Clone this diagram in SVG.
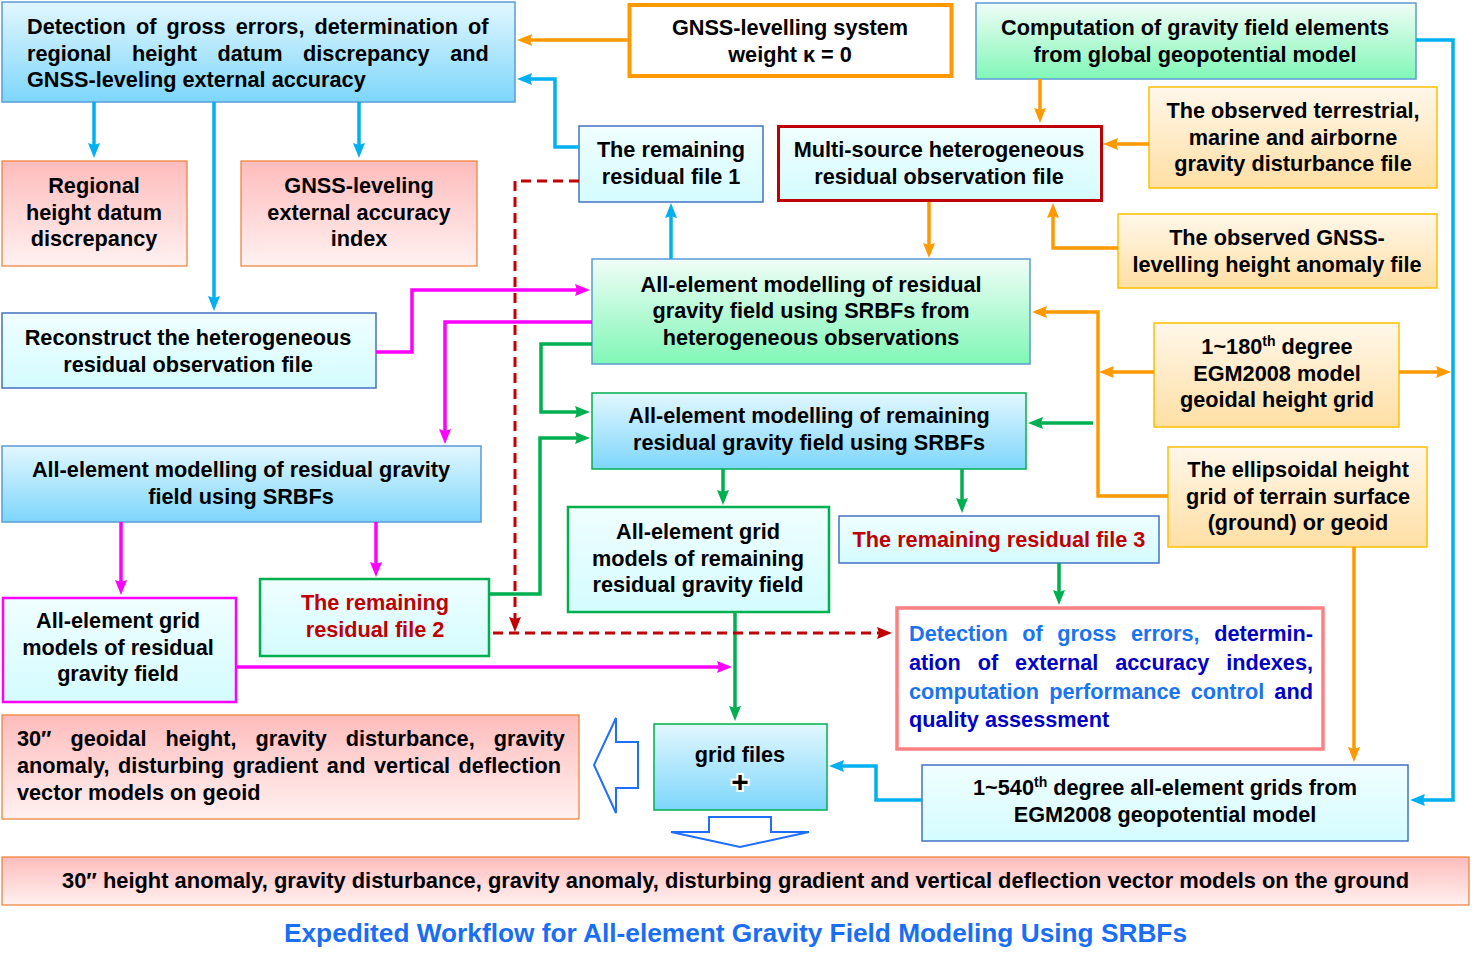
<svg xmlns="http://www.w3.org/2000/svg" width="1475" height="965" viewBox="0 0 1475 965">
<defs>
<linearGradient id="gBlue" x1="0" y1="0" x2="0" y2="1"><stop offset="0" stop-color="#e2f7fe"/><stop offset="1" stop-color="#7dd6fb"/></linearGradient>
<linearGradient id="gGreen" x1="0" y1="0" x2="0" y2="1"><stop offset="0" stop-color="#f0fdf7"/><stop offset="1" stop-color="#80f7b6"/></linearGradient>
<linearGradient id="gPink" x1="0" y1="0" x2="0" y2="1"><stop offset="0" stop-color="#ffbcbc"/><stop offset="1" stop-color="#fff1f1"/></linearGradient>
<linearGradient id="gOrange" x1="0" y1="0" x2="0" y2="1"><stop offset="0" stop-color="#fff7ea"/><stop offset="1" stop-color="#ffdfa4"/></linearGradient>
<linearGradient id="gCyan" x1="0" y1="0" x2="0" y2="1"><stop offset="0" stop-color="#f0feff"/><stop offset="1" stop-color="#d4fcff"/></linearGradient>
<marker id="aBlue" viewBox="0 0 15 12" refX="5" refY="6" markerWidth="15" markerHeight="12" markerUnits="userSpaceOnUse" orient="auto"><path d="M0,0 L15,6 L0,12 L2,6 z" fill="#00b0f0"/></marker>
<marker id="aOrange" viewBox="0 0 15 12" refX="5" refY="6" markerWidth="15" markerHeight="12" markerUnits="userSpaceOnUse" orient="auto"><path d="M0,0 L15,6 L0,12 L2,6 z" fill="#ff9900"/></marker>
<marker id="aGreen" viewBox="0 0 15 12" refX="5" refY="6" markerWidth="15" markerHeight="12" markerUnits="userSpaceOnUse" orient="auto"><path d="M0,0 L15,6 L0,12 L2,6 z" fill="#00b050"/></marker>
<marker id="aMag" viewBox="0 0 15 12" refX="5" refY="6" markerWidth="15" markerHeight="12" markerUnits="userSpaceOnUse" orient="auto"><path d="M0,0 L15,6 L0,12 L2,6 z" fill="#ff00ff"/></marker>
<marker id="aRed" viewBox="0 0 15 12" refX="5" refY="6" markerWidth="15" markerHeight="12" markerUnits="userSpaceOnUse" orient="auto"><path d="M0,0 L15,6 L0,12 L2,6 z" fill="#c00000"/></marker>
</defs>
<style>
text{font-family:"Liberation Sans",Arial,sans-serif;font-weight:bold;font-size:21.7px;fill:#000}
.c{text-anchor:middle}
.red{fill:#c00000}
.lb{fill:#1a73f0}
.db{fill:#0000c8}
.sup{font-size:14px}
.bBlue{fill:url(#gBlue);stroke:#5b9bd5;stroke-width:1.5}
.bGreen{fill:url(#gGreen);stroke:#5b9bd5;stroke-width:1.5}
.bPink{fill:url(#gPink);stroke:#ed7d31;stroke-width:1.2}
.bOr{fill:url(#gOrange);stroke:#ffc000;stroke-width:1.5}
.bCyan{fill:url(#gCyan);stroke:#4472c4;stroke-width:1.5}
.cn{fill:none;stroke-width:3.5}
.cb{stroke:#00b0f0;marker-end:url(#aBlue)}
.co{stroke:#ff9900;marker-end:url(#aOrange)}
.cg{stroke:#00b050;marker-end:url(#aGreen)}
.cm{stroke:#ff00ff;marker-end:url(#aMag)}
.cr{stroke:#c00000;stroke-width:3;stroke-dasharray:10 6;marker-end:url(#aRed)}
.blk{fill:#fff;stroke:#1f6fff;stroke-width:2}
</style>
<rect width="1475" height="965" fill="#fff"/>

<g id="n-detect-top">
<rect class="bBlue" x="2" y="2" width="513" height="100"/>
<text x="27" y="34" word-spacing="4.1">Detection of gross errors, determination of</text>
<text x="27" y="61" word-spacing="14.5">regional height datum discrepancy and</text>
<text x="27" y="87">GNSS-leveling external accuracy</text>
</g>
<g id="n-gnss-weight">
<rect x="629.5" y="5" width="322" height="71" fill="#fff" stroke="#ff9900" stroke-width="4"/>
<text class="c" x="790" y="35">GNSS-levelling system</text>
<text class="c" x="790" y="62">weight κ = 0</text>
</g>
<g id="n-computation">
<rect class="bGreen" x="976" y="3" width="440" height="76"/>
<text class="c" x="1195" y="35">Computation of gravity field elements</text>
<text class="c" x="1195" y="62">from global geopotential model</text>
</g>
<g id="n-regional">
<rect class="bPink" x="2" y="161" width="185" height="105"/>
<text class="c" x="94" y="193">Regional</text>
<text class="c" x="94" y="220">height datum</text>
<text class="c" x="94" y="246">discrepancy</text>
</g>
<g id="n-gnss-index">
<rect class="bPink" x="241" y="161" width="236" height="105"/>
<text class="c" x="359" y="193">GNSS-leveling</text>
<text class="c" x="359" y="220">external accuracy</text>
<text class="c" x="359" y="246">index</text>
</g>
<g id="n-file1">
<rect class="bCyan" x="579" y="126" width="184" height="76"/>
<text class="c" x="671" y="157">The remaining</text>
<text class="c" x="671" y="184">residual file 1</text>
</g>
<g id="n-multisource">
<rect x="778.5" y="126.5" width="323" height="74" fill="url(#gCyan)" stroke="#c00000" stroke-width="3"/>
<text class="c" x="939" y="157">Multi-source heterogeneous</text>
<text class="c" x="939" y="184">residual observation file</text>
</g>
<g id="n-obs-terr">
<rect class="bOr" x="1149" y="87" width="288" height="101"/>
<text class="c" x="1293" y="118">The observed terrestrial,</text>
<text class="c" x="1293" y="145">marine and airborne</text>
<text class="c" x="1293" y="171">gravity disturbance file</text>
</g>
<g id="n-obs-gnss">
<rect class="bOr" x="1118" y="214" width="319" height="74"/>
<text class="c" x="1277" y="245">The observed GNSS-</text>
<text class="c" x="1277" y="272">levelling height anomaly file</text>
</g>
<g id="n-model-hetero">
<rect class="bGreen" x="592" y="259" width="438" height="105"/>
<text class="c" x="811" y="292">All-element modelling of residual</text>
<text class="c" x="811" y="318">gravity field using SRBFs from</text>
<text class="c" x="811" y="345">heterogeneous observations</text>
</g>
<g id="n-reconstruct">
<rect class="bCyan" x="2" y="313" width="374" height="75"/>
<text class="c" x="188" y="345">Reconstruct the heterogeneous</text>
<text class="c" x="188" y="372">residual observation file</text>
</g>
<g id="n-egm180">
<rect class="bOr" x="1154" y="323" width="245" height="104"/>
<text class="c" x="1277" y="354">1~180<tspan class="sup" dy="-8">th</tspan><tspan dy="8"> degree</tspan></text>
<text class="c" x="1277" y="381">EGM2008 model</text>
<text class="c" x="1277" y="407">geoidal height grid</text>
</g>
<g id="n-model-remaining">
<rect x="592" y="393" width="434" height="76" fill="url(#gBlue)" stroke="#00b050" stroke-width="1.5"/>
<text class="c" x="809" y="423">All-element modelling of remaining</text>
<text class="c" x="809" y="450">residual gravity field using SRBFs</text>
</g>
<g id="n-model-left">
<rect class="bBlue" x="2" y="446" width="479" height="76"/>
<text class="c" x="241" y="477">All-element modelling of residual gravity</text>
<text class="c" x="241" y="504">field using SRBFs</text>
</g>
<g id="n-ellipsoidal">
<rect class="bOr" x="1168" y="447" width="259" height="100"/>
<text class="c" x="1298" y="477">The ellipsoidal height</text>
<text class="c" x="1298" y="504">grid of terrain surface</text>
<text class="c" x="1298" y="530">(ground) or geoid</text>
</g>
<g id="n-grid-remaining">
<rect x="568" y="507" width="261" height="105" fill="url(#gCyan)" stroke="#00b050" stroke-width="2.5"/>
<text class="c" x="698" y="539">All-element grid</text>
<text class="c" x="698" y="566">models of remaining</text>
<text class="c" x="698" y="592">residual gravity field</text>
</g>
<g id="n-file3">
<rect class="bCyan" x="839" y="516" width="320" height="47"/>
<text class="c red" x="999" y="547">The remaining residual file 3</text>
</g>
<g id="n-grid-residual">
<rect x="3" y="598" width="233" height="104" fill="url(#gCyan)" stroke="#ff00ff" stroke-width="2.5"/>
<text class="c" x="118" y="628">All-element grid</text>
<text class="c" x="118" y="655">models of residual</text>
<text class="c" x="118" y="681">gravity field</text>
</g>
<g id="n-file2">
<rect x="260" y="579" width="229" height="77" fill="url(#gCyan)" stroke="#00b050" stroke-width="2.5"/>
<text class="c red" x="375" y="610">The remaining</text>
<text class="c red" x="375" y="637">residual file 2</text>
</g>
<g id="n-detect-bottom">
<rect x="897" y="608" width="426" height="141" fill="#fff" stroke="#ff8080" stroke-width="3.5"/>
<text x="909" y="641" word-spacing="8.5"><tspan class="lb">Detection of gross errors, </tspan><tspan class="db">determin-</tspan></text>
<text class="db" x="909" y="670" word-spacing="10.9">ation of external accuracy indexes,</text>
<text x="909" y="699" word-spacing="4.1"><tspan class="lb">computation performance control </tspan><tspan class="db">and</tspan></text>
<text class="db" x="909" y="727">quality assessment</text>
</g>
<g id="n-geoid-models">
<rect class="bPink" x="2" y="715" width="577" height="104"/>
<text x="17" y="746" word-spacing="13">30″ geoidal height, gravity disturbance, gravity</text>
<text x="17" y="773" word-spacing="2.6">anomaly, disturbing gradient and vertical deflection</text>
<text x="17" y="800">vector models on geoid</text>
</g>
<g id="n-gridfiles">
<rect x="654" y="724" width="173" height="86" fill="url(#gBlue)" stroke="#00b050" stroke-width="1.5"/>
<text class="c" x="740" y="762">grid files</text>
<text class="c" x="740" y="792" style="font-size:30px;stroke:#fff;stroke-width:4;paint-order:stroke">+</text>
</g>
<g id="n-egm540">
<rect class="bCyan" x="922" y="765" width="486" height="76"/>
<text class="c" x="1165" y="795">1~540<tspan class="sup" dy="-8">th</tspan><tspan dy="8"> degree all-element grids from</tspan></text>
<text class="c" x="1165" y="822">EGM2008 geopotential model</text>
</g>
<g id="n-ground-models">
<rect class="bPink" x="2" y="857" width="1467" height="48"/>
<text class="c" x="735.5" y="888" textLength="1347" lengthAdjust="spacingAndGlyphs">30″ height anomaly, gravity disturbance, gravity anomaly, disturbing gradient and vertical deflection vector models on the ground</text>
</g>
<text class="c" x="735.5" y="942" style="font-size:26px;fill:#1a6ef5" textLength="903" lengthAdjust="spacingAndGlyphs">Expedited Workflow for All-element Gravity Field Modeling Using SRBFs</text>

<g id="connectors">
<path class="cn cb" d="M94,102 V148"/>
<path class="cn cb" d="M359,102 V148"/>
<path class="cn cb" d="M214,102 V301"/>
<path class="cn cb" d="M579,147 H555 V79 H527"/>
<path class="cn cb" d="M671,259 V213"/>
<path class="cn cb" d="M1416,40 H1453 V800 H1420"/>
<path class="cn cb" d="M922,800 H876 V766 H839"/>
<path class="cn co" d="M628,40 H527"/>
<path class="cn co" d="M1040,79 V113"/>
<path class="cn co" d="M1149,144 H1113"/>
<path class="cn co" d="M1118,248 H1053 V213"/>
<path class="cn co" d="M929,202 V248"/>
<path class="cn co" d="M1168,496 H1098 V312 H1042"/>
<path class="cn co" d="M1154,372 H1109"/>
<path class="cn co" d="M1399,372 H1441"/>
<path class="cn co" d="M1354,547 V752"/>
<path class="cn cg" d="M1093,423 H1038"/>
<path class="cn cg" d="M592,344 H541 V412 H580"/>
<path class="cn cg" d="M489,594 H540 V438 H580"/>
<path class="cn cg" d="M723,469 V495"/>
<path class="cn cg" d="M962,469 V503"/>
<path class="cn cg" d="M1059,563 V595"/>
<path class="cn cg" d="M735,612 V711"/>
<path class="cn cm" d="M376,352 H412 V290 H580"/>
<path class="cn cm" d="M592,322 H445 V434"/>
<path class="cn cm" d="M121,522 V585"/>
<path class="cn cm" d="M376,522 V567"/>
<path class="cn cm" d="M236,667 H722"/>
<path class="cn cr" d="M579,181 H515 V622"/>
<path class="cn cr" d="M493,633 H882"/>
<polygon class="blk" points="594,765 616,718 616,742 638,742 638,788 616,788 616,813"/>
<polygon class="blk" points="709,817 771,817 771,832 809,832 740,847 671,832 709,832"/>
</g>
</svg>
